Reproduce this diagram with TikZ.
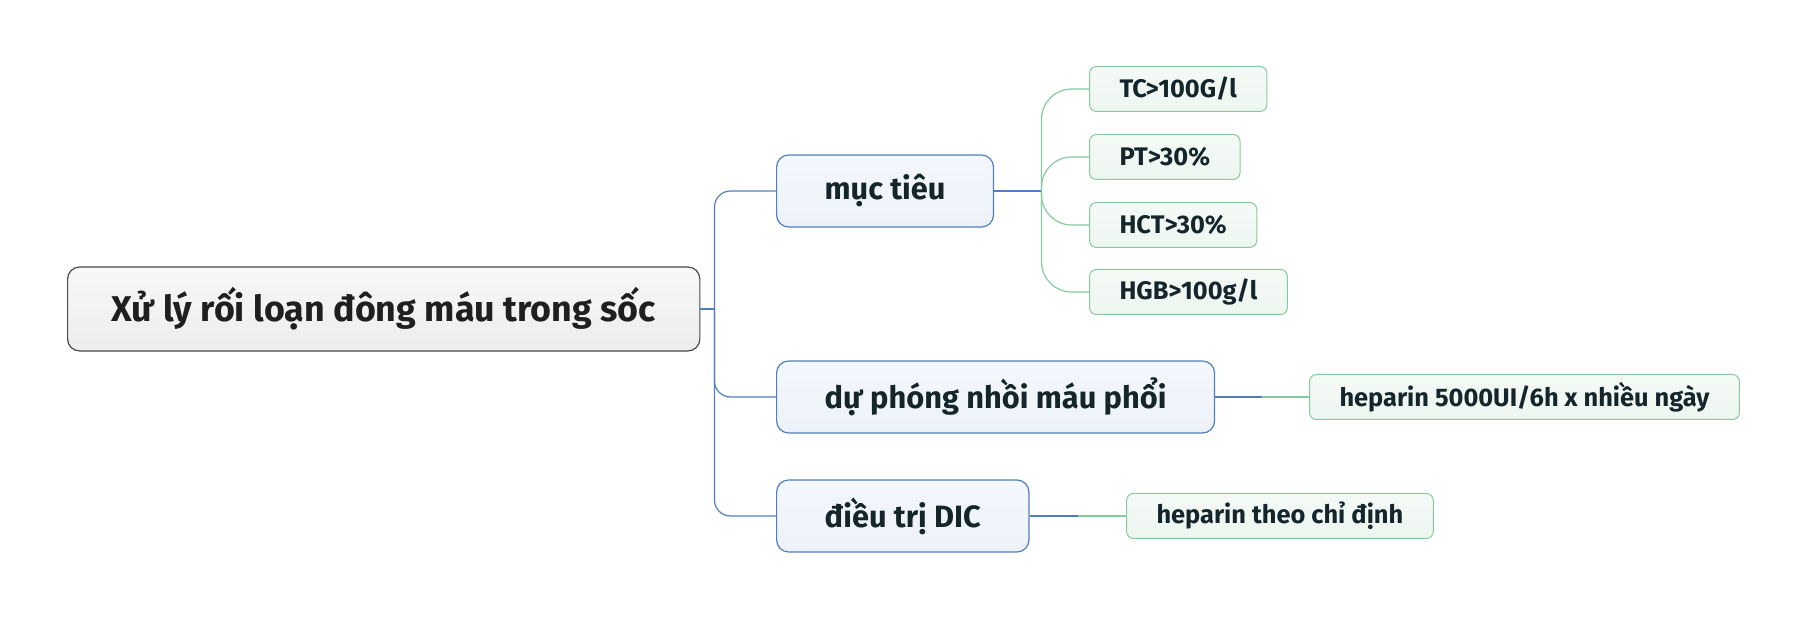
\documentclass[tikz,border=0pt]{standalone}
\usepackage{fontspec}
\setmainfont{Fira Sans}
\usetikzlibrary{calc}
\definecolor{rootline}{HTML}{4A4A4A}
\definecolor{blueline}{HTML}{4F7FBF}
\definecolor{bluefill}{HTML}{EDF2FA}
\definecolor{greenline}{HTML}{86CB9F}
\definecolor{greenfill}{HTML}{EDF6F0}
\definecolor{inktext}{HTML}{14262C}
\tikzset{
  rootbox/.style={draw=rootline, line width=.6pt, rounded corners=6pt,
    top color=white!97!black, bottom color=white!93!black,
    font=\bfseries\fontsize{17.9}{20}\selectfont, text=black!88,
    inner xsep=22pt, minimum height=42pt, anchor=west},
  topicbox/.style={draw=blueline, line width=.6pt, rounded corners=6pt,
    top color=bluefill!60!white, bottom color=bluefill,
    font=\bfseries\fontsize{15.4}{17}\selectfont, text=inktext,
    inner xsep=24pt, minimum height=36pt, anchor=west},
  leafbox/.style={draw=greenline, line width=.5pt, rounded corners=3.5pt,
    top color=greenfill!60!white, bottom color=greenfill,
    font=\bfseries\fontsize{12.7}{14}\selectfont, text=inktext,
    inner xsep=15pt, minimum height=22.5pt, anchor=west},
  blueconn/.style={draw=blueline, line width=.6pt},
  greenconn/.style={draw=greenline, line width=.6pt}
}
\begin{document}
\begin{tikzpicture}[x=0.5pt,y=-0.5pt]
  \useasboundingbox (0,0) rectangle (1805,619);
  % root and main topics
  \node[rootbox] (root) at (67,309) {Xử lý rối loạn đông máu trong sốc};
  \node[topicbox] (goal) at (776,191) {mục tiêu};
  \node[topicbox] (prev) at (776,397) {dự phóng nhồi máu phổi};
  \node[topicbox] (dic) at (776,516) {điều trị DIC};
  % leaves
  \node[leafbox] (tc) at (1089,89) {TC>100G/l};
  \node[leafbox] (pt) at (1089,157) {PT>30\%};
  \node[leafbox] (hct) at (1089,225) {HCT>30\%};
  \node[leafbox] (hgb) at (1089,292) {HGB>100g/l};
  \node[leafbox] (hep) at (1309,397) {heparin 5000UI/6h x nhiều ngày};
  \node[leafbox] (hepdic) at (1126,516) {heparin theo chỉ định};
  % trunk
  \coordinate (trunk) at ([xshift=7pt]root.east);
  \draw[blueconn] (root.east) -- (trunk);
  \draw[blueconn, rounded corners=8pt] (trunk) |- (goal.west);
  \draw[blueconn, rounded corners=8pt] (trunk) |- (prev.west);
  \draw[blueconn, rounded corners=8pt] (trunk) |- (dic.west);
  % goal branch
  \coordinate (gj) at ($(goal.east)!.5!(goal.east -| tc.west)$);
  \draw[blueconn] (goal.east) -- (gj);
  \foreach \leaf in {tc,pt,hct,hgb}
    \draw[greenconn, rounded corners=15pt] (gj) |- (\leaf.west);
  % single leaves
  \coordinate (pj) at ($(prev.east)!.5!(hep.west)$);
  \draw[blueconn] (prev.east) -- (pj);
  \draw[greenconn] (pj) -- (hep.west);
  \coordinate (dj) at ($(dic.east)!.5!(hepdic.west)$);
  \draw[blueconn] (dic.east) -- (dj);
  \draw[greenconn] (dj) -- (hepdic.west);
\end{tikzpicture}
\end{document}
